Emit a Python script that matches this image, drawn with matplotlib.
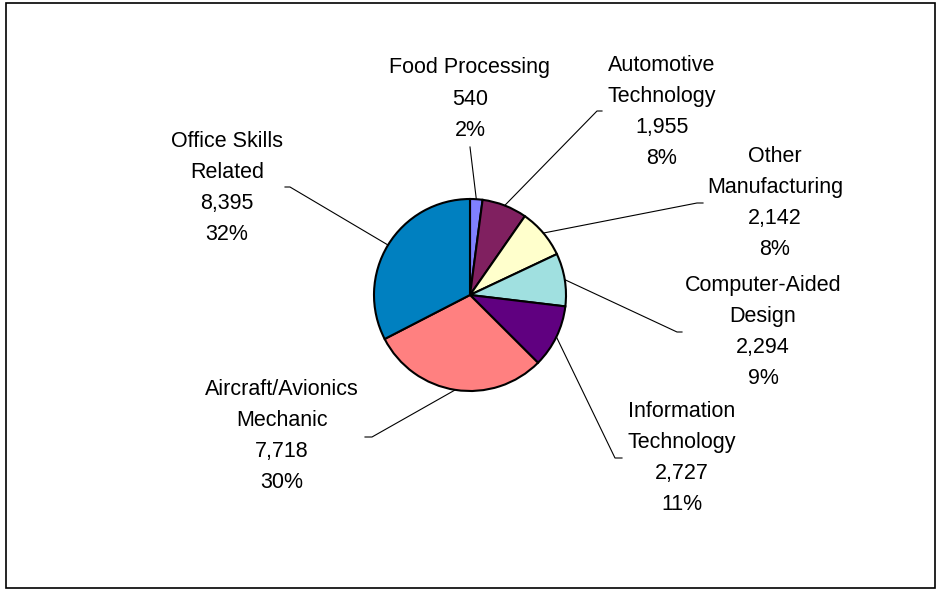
import matplotlib
matplotlib.use('Agg')
import matplotlib.pyplot as plt
from matplotlib.patches import Rectangle
import numpy as np

plt.rcParams['font.family'] = ['Liberation Sans', 'DejaVu Sans']

programs = ['Food Processing', 'Automotive\nTechnology', 'Other\nManufacturing',
            'Computer-Aided\nDesign', 'Information\nTechnology',
            'Aircraft/Avionics\nMechanic', 'Office Skills\nRelated']
enrolled = [540, 1955, 2142, 2294, 2727, 7718, 8395]
pct_labels = [2, 8, 8, 9, 11, 30, 32]
colors = ['#8080FF', '#802060', '#FFFFCC', '#A0E0E0', '#600080', '#FF8080', '#0080C0']

# layout in pixels (y measured from the top)
W, H = 937, 590
cx, cy, r = 470, 295, 96
label_xy = [(470, 99), (662, 112), (775, 203), (763, 332),
            (682, 458), (282, 436), (227, 188)]
elbow_xy = [(470, 147), (597, 111), (697, 203), (677, 332),
            (615, 458), (372, 437), (290, 187)]
tail_dx = [0, 5, 6, 5, 7, -7, -5]

fig = plt.figure(figsize=(W / 100, H / 100), dpi=100)
ax = fig.add_axes([0, 0, 1, 1])

ax.pie(enrolled, colors=colors, startangle=90, counterclock=False,
       center=(cx, H - cy), radius=r,
       wedgeprops=dict(edgecolor='black', linewidth=1.5))

ax.set_xlim(0, W)
ax.set_ylim(0, H)
ax.set_aspect('equal')
ax.axis('off')

total = sum(enrolled)
start = 0
for i, v in enumerate(enrolled):
    mid = (start + v / 2) / total * 2 * np.pi
    start += v
    x0 = cx + r * np.sin(mid)
    y0 = cy - r * np.cos(mid)
    ex, ey = elbow_xy[i]
    xs = [x0, ex, ex + tail_dx[i]]
    ys = [H - y0, H - ey, H - ey]
    ax.plot(xs, ys, color='black', linewidth=0.8)
    lx, ly = label_xy[i]
    txt = '%s\n%s\n%d%%' % (programs[i], format(v, ','), pct_labels[i])
    ax.text(lx, H - ly, txt, ha='center', va='center', fontsize=15.5,
            linespacing=1.64, color='black')

ax.add_patch(Rectangle((6, 2), 929, 585, fill=False, edgecolor='black',
                       linewidth=1.2))

fig.savefig('out.png', dpi=100)
